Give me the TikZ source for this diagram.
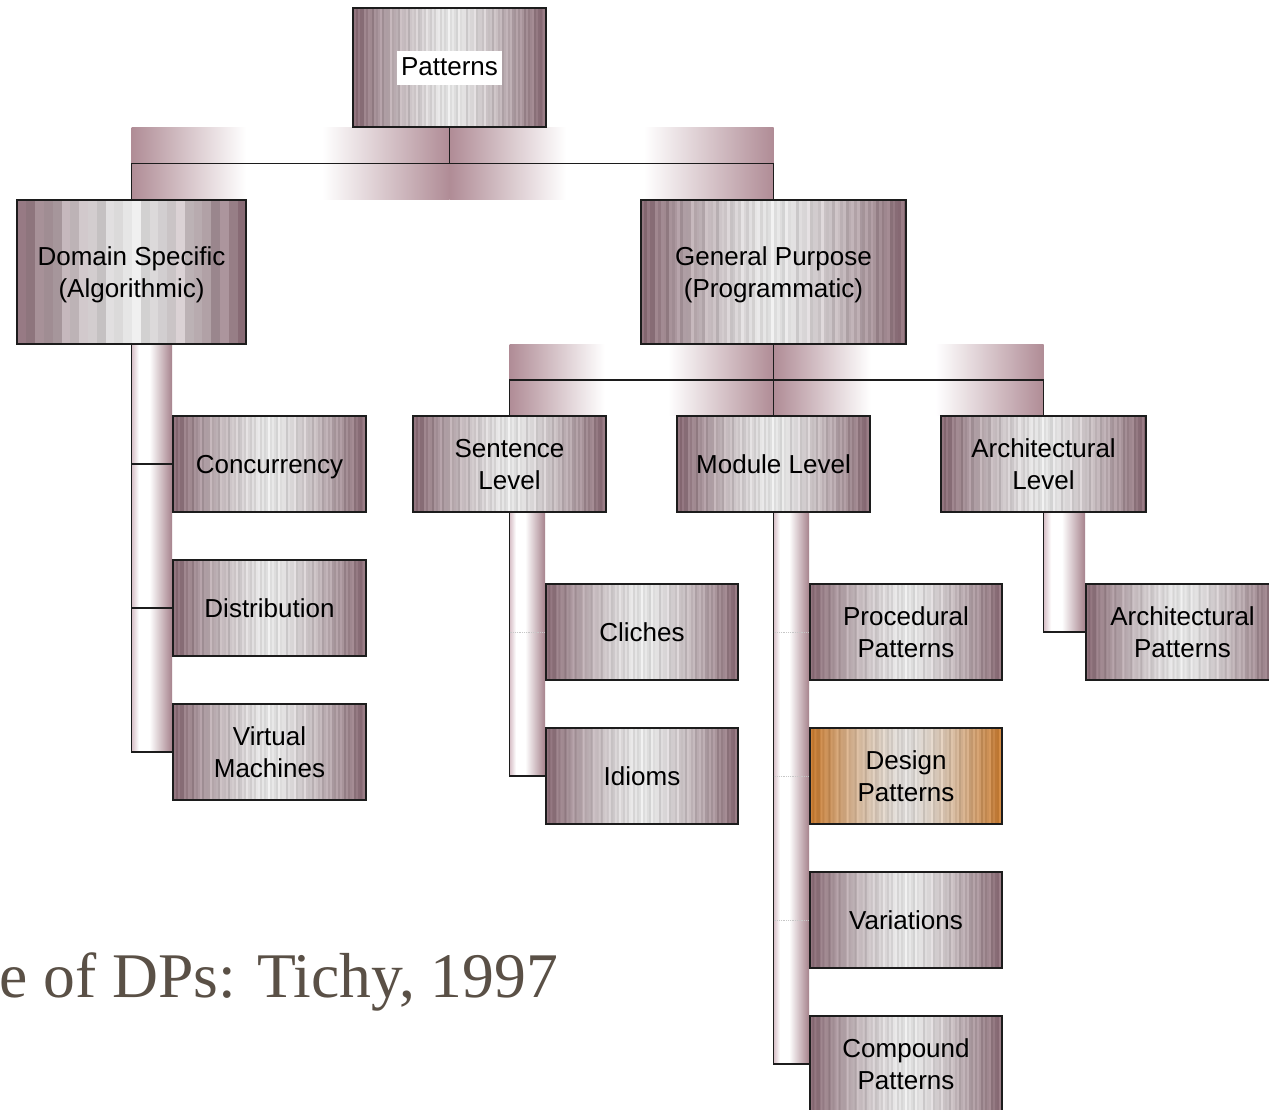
\documentclass[tikz,border=0pt]{standalone}
\usepackage{fontspec}
\setmainfont{Liberation Sans}
\newfontfamily\captionserif{Liberation Serif}
\usetikzlibrary{calc,backgrounds}

\definecolor{edgeline}{RGB}{28,28,28}
\definecolor{bandpink}{RGB}{176,140,150}
\definecolor{pipeL}{RGB}{214,190,198}
\definecolor{pipeR}{RGB}{166,130,140}
\definecolor{captioncol}{RGB}{90,80,70}

% line strut: Arial-like ascent and descent, so every line sits the same way
\newcommand\bstrut{\rule[-5.5pt]{0pt}{29pt}}

% cylinder-like fills for the connector bands and pipes
\pgfdeclarehorizontalshading{bandshade}{100bp}{color(0bp)=(bandpink); color(25bp)=(bandpink); color(43bp)=(white); color(55bp)=(white); color(75bp)=(bandpink); color(100bp)=(bandpink)}
\pgfdeclarehorizontalshading{pipeshade}{100bp}{color(0bp)=(pipeL); color(25bp)=(pipeL); color(34bp)=(white); color(47bp)=(white); color(75bp)=(pipeR); color(100bp)=(pipeR)}

% striped box fill: #1 name, #2 stripe count (even), #3-#5 edge rgb, #6-#8 centre rgb
\makeatletter
\newcommand\mkstripes[8]{%
  \pgfmathsetmacro\st@w{50/#2}%
  \xdef\st@spec{rgb(0bp)=(#3,#4,#5)}%
  \foreach \st@i in {1,...,#2}{%
    \pgfmathsetmacro\st@xa{25+(\st@i-1)*\st@w+0.004}%
    \pgfmathsetmacro\st@xb{25+\st@i*\st@w}%
    \pgfmathsetmacro\st@t{abs((\st@i-0.5)/#2-0.5)*2}%
    \pgfmathsetmacro\st@m{\st@t^1.5}%
    \pgfmathsetmacro\st@j{0.045*sin(\st@i*137.5)+0.025*sin(\st@i*61.3)}%
    \pgfmathsetmacro\st@r{max(0,min(1,#3*\st@m+#6*(1-\st@m)+\st@j))}%
    \pgfmathsetmacro\st@g{max(0,min(1,#4*\st@m+#7*(1-\st@m)+\st@j))}%
    \pgfmathsetmacro\st@b{max(0,min(1,#5*\st@m+#8*(1-\st@m)+\st@j))}%
    \xdef\st@spec{\st@spec; rgb(\st@xa bp)=(\st@r,\st@g,\st@b); rgb(\st@xb bp)=(\st@r,\st@g,\st@b)}%
  }%
  \xdef\st@spec{\st@spec; rgb(100bp)=(#3,#4,#5)}%
  \edef\st@do{\noexpand\pgfdeclarehorizontalshading{#1}{100bp}{\st@spec}}\st@do
}
\makeatother

\mkstripes{boxstripe}{96}{0.52}{0.40}{0.44}{0.89}{0.89}{0.89}
\mkstripes{widestripe}{26}{0.52}{0.40}{0.44}{0.89}{0.89}{0.89}
\mkstripes{goldstripe}{96}{0.76}{0.46}{0.17}{0.86}{0.85}{0.84}

\tikzset{
  box/.style={draw=edgeline, line width=1.8pt, shading=boxstripe,
    minimum width=193pt, minimum height=96pt, align=center, inner sep=0pt,
    font=\fontsize{26}{32}\selectfont},
  conn/.style={draw=edgeline, line width=1.8pt},
  faintconn/.style={draw=black!22, line width=0.8pt, densely dotted},
  band/.style={shading=bandshade},
  pipe/.style={shading=pipeshade}
}

\begin{document}
\begin{tikzpicture}[x=1pt,y=-1pt]
\clip (0,0) rectangle (1269,1109);

% boxes
\node[box, minimum height=119pt] (pat) at (449.5,67.5) {};
\node[fill=white, inner xsep=4pt, inner ysep=4.5pt, text height=20pt, text depth=5pt,
      font=\fontsize{26}{32}\selectfont] (patlbl) at (pat.center) {Patterns};

\node[box, shading=widestripe, minimum width=229pt, minimum height=144pt] (dom) at (131.5,272) {\bstrut Domain Specific\\\bstrut(Algorithmic)};
\node[box, minimum width=265pt, minimum height=144pt] (gen) at (773.5,272) {\bstrut General Purpose\\\bstrut(Programmatic)};

\node[box] (conc) at (269.5,464) {\bstrut Concurrency};
\node[box] (dist) at (269.5,608) {\bstrut Distribution};
\node[box] (virt) at (269.5,752) {\bstrut Virtual\\\bstrut Machines};

\node[box] (sent) at (509.5,464) {\bstrut Sentence\\\bstrut Level};
\node[box] (mod) at (773.5,464) {\bstrut Module Level};
\node[box, minimum width=205pt] (arch) at (1043.5,464) {\bstrut Architectural\\\bstrut Level};

\node[box, minimum width=192pt] (clich) at (642,632) {\bstrut Cliches};
\node[box, minimum width=192pt] (idiom) at (642,776) {\bstrut Idioms};

\node[box, minimum width=192pt] (proc) at (906,632) {\bstrut Procedural\\\bstrut Patterns};
\node[box, minimum width=192pt, shading=goldstripe] (des) at (906,776) {\bstrut Design\\\bstrut Patterns};
\node[box, minimum width=192pt] (var) at (906,920) {\bstrut Variations};
\node[box, minimum width=192pt] (comp) at (906,1064) {\bstrut Compound\\\bstrut Patterns};

\node[box] (archp) at (1182.5,632) {\bstrut Architectural\\\bstrut Patterns};

\node[anchor=base west, inner sep=0pt, text=captioncol,
      font=\captionserif\fontsize{63.6}{70}\selectfont] (cap) at (-1,997) {e of DPs: Tichy, 1997};

\begin{scope}[on background layer]
  \fill[white] (0,0) rectangle (1269,1109);

  % Patterns -> Domain Specific / General Purpose
  \coordinate (j1) at ($(pat.south)!0.5!(pat.south |- dom.north)$);
  \shade[band] (pat.south -| dom.north) rectangle (j1);
  \shade[band] (pat.south) rectangle (j1 -| gen.north);
  \shade[band] (j1 -| dom.north) rectangle (dom.north -| j1);
  \shade[band] (j1) rectangle (gen.north);
  \draw[conn] (pat.south) -- (j1);
  \draw[conn] (dom.north) |- (j1) -| (gen.north);

  % General Purpose -> three levels
  \coordinate (j2) at ($(gen.south)!0.5!(gen.south |- mod.north)$);
  \shade[band] (gen.south -| sent.north) rectangle (j2);
  \shade[band] (gen.south) rectangle (j2 -| arch.north);
  \shade[band] (j2 -| sent.north) rectangle (mod.north);
  \shade[band] (j2) rectangle (arch.north);
  \draw[conn] (gen.south) -- (j2);
  \draw[conn] (sent.north) |- (j2) -| (arch.north);
  \draw[conn, line width=1pt] (j2) -- (mod.north);

  % Domain Specific pipe
  \shade[pipe] (dom.south) rectangle (virt.west);
  \draw[conn] (dom.south) |- (conc.west);
  \draw[conn] (dom.south) |- (dist.west);
  \draw[conn] (dom.south) |- (virt.west);

  % Sentence Level pipe
  \shade[pipe] (sent.south) rectangle (idiom.west);
  \draw[conn] (sent.south) |- (idiom.west);
  \draw[faintconn] (clich.west -| sent.south) -- (clich.west);

  % Module Level pipe
  \shade[pipe] (mod.south) rectangle (comp.west);
  \draw[conn] (mod.south) |- (comp.west);
  \draw[faintconn] (proc.west -| mod.south) -- (proc.west);
  \draw[faintconn] (des.west -| mod.south) -- (des.west);
  \draw[faintconn] (var.west -| mod.south) -- (var.west);

  % Architectural Level pipe
  \shade[pipe] (arch.south) rectangle (archp.west);
  \draw[conn] (arch.south) |- (archp.west);
\end{scope}
\end{tikzpicture}
\end{document}
